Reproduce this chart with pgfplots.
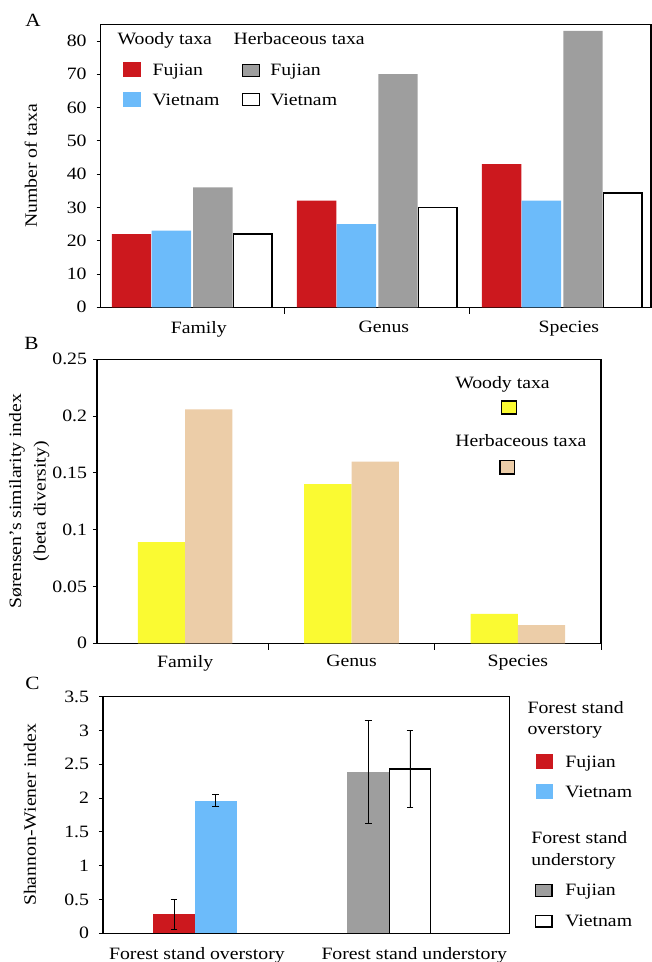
\documentclass[border=0pt]{standalone}
\usepackage{fontspec}
\setmainfont{Liberation Serif}[FakeStretch=1.14]
\usepackage{pgfplots}
\pgfplotsset{compat=1.18}
\definecolor{cred}{RGB}{204,24,30}
\definecolor{cblue}{RGB}{108,187,250}
\definecolor{cgray}{RGB}{158,158,158}
\definecolor{cyel}{RGB}{250,250,50}
\definecolor{ctan}{RGB}{236,205,168}
\pgfplotsset{
  panel/.style={
    scale only axis,
    anchor=south west,
    ymin=0,
    axis line style={black, line width=0.9pt},
    tick align=outside,
    ytick pos=left,
    xtick pos=bottom,
    major tick length=3pt,
    minor tick length=5pt,
    tick style={black, line width=0.6pt},
    major x tick style={draw=none},
    /pgf/number format/assume math mode=true,
    every axis y label/.style={rotate=90, anchor=center},
  }
}
\begin{document}
\begin{tikzpicture}[font=\fontsize{13}{15.6}\selectfont]
% ---------------- Panel A ----------------
\begin{axis}[panel,
  at={(75.45pt,491.03pt)},
  width=412.8pt, height=212.25pt,
  xmin=-0.495, xmax=2.48, ymax=85,
  xtick={0,1,2}, xticklabels={Family,Genus,Species},
  xticklabel style={xshift=5pt, yshift=-4pt},
  yticklabel style={xshift=-4pt},
  minor xtick={0.5,1.5},
  ytick={0,10,20,30,40,50,60,70,80},
  ylabel={Number of taxa},
  ylabel style={at={(axis description cs:-0.1265,0.5)}},
]
\addplot[ybar, bar width=29.6pt, bar shift=-45.5pt, fill=cred, draw=none] coordinates {(0,22) (1,32) (2,43)};
\addplot[ybar, bar width=29.6pt, bar shift=-15.6pt, fill=cblue, draw=none] coordinates {(0,23) (1,25) (2,32)};
\addplot[ybar, bar width=29.6pt, bar shift=15.6pt, fill=cgray, draw=none] coordinates {(0,36) (1,70) (2,83)};
\addplot[ybar, bar width=28.8pt, bar shift=45.5pt, fill=white, draw=black, line width=1.1pt] coordinates {(0,22) (1,30) (2,34.3)};
\end{axis}
% ---------------- Panel B ----------------
\begin{axis}[panel,
  at={(72.75pt,239.03pt)},
  width=378pt, height=213pt,
  xmin=-0.53, xmax=2.5, ymax=0.25,
  xtick={0,1,2}, xticklabels={Family,Genus,Species},
  xticklabel style={yshift=-2.5pt},
  yticklabel style={xshift=-1pt, /pgf/number format/fixed, /pgf/number format/precision=2},
  minor xtick={0.5,1.5,2.5},
  ytick={0,0.05,0.1,0.15,0.2,0.25},
  ylabel={Sørensen’s similarity index\\(beta diversity)},
  ylabel style={at={(axis description cs:-0.1344,0.5)}, align=center, font=\fontsize{13}{18.4}\selectfont},
]
\addplot[ybar, bar width=35.5pt, bar shift=-17.75pt, fill=cyel, draw=none] coordinates {(0,0.089) (1,0.140) (2,0.026)};
\addplot[ybar, bar width=35.5pt, bar shift=17.75pt, fill=ctan, draw=none] coordinates {(0,0.206) (1,0.160) (2,0.016)};
\end{axis}
% ---------------- Panel C ----------------
\begin{axis}[panel,
  at={(77.25pt,21.53pt)},
  width=304.9pt, height=177.45pt,
  xmin=-0.474, xmax=1.621, ymax=3.5,
  xtick={0.01,1.13}, xticklabels={Forest stand overstory,Forest stand understory},
  xticklabel style={yshift=-4pt},
  yticklabel style={xshift=-4pt},
  ytick={0,0.5,1,1.5,2,2.5,3,3.5},
  ylabel={Shannon-Wiener index},
  ylabel style={at={(axis description cs:-0.1796,0.5)}},
  error bars/error bar style={black, line width=0.7pt},
  error bars/error mark options={black, line width=0.7pt, mark size=2.6pt, rotate=90},
]
\addplot[ybar, bar width=31.5pt, bar shift=0pt, fill=cred, draw=none,
  error bars/.cd, y dir=both, y explicit] coordinates {(-0.108,0.28) +- (0,0.22)};
\addplot[ybar, bar width=31.5pt, bar shift=0pt, fill=cblue, draw=none,
  error bars/.cd, y dir=both, y explicit] coordinates {(0.108,1.96) +- (0,0.09)};
\addplot[ybar, bar width=31.5pt, bar shift=0pt, fill=cgray, draw=none,
  error bars/.cd, y dir=both, y explicit] coordinates {(0.892,2.39) +- (0,0.76)};
\addplot[ybar, bar width=30.8pt, bar shift=0pt, fill=white, draw=black, line width=1.1pt,
  error bars/.cd, y dir=both, y explicit] coordinates {(1.108,2.43) +- (0,0.57)};
\end{axis}
% ---------------- Texts and legends (pixel frame) ----------------
\begin{scope}[x=0.75pt, y=-0.75pt, shift={(0pt,721.5pt)}]
\tikzset{lt/.style={anchor=base west, inner sep=0pt}}
\node[lt, font=\fontsize{14}{16}\selectfont] at (25,26.7) {A};
\node[lt, font=\fontsize{14}{16}\selectfont] at (24,349.3) {B};
\node[lt, font=\fontsize{14}{16}\selectfont] at (25,690) {C};
% legend A
\node[lt] at (117.3,44.3) {Woody taxa};
\node[lt] at (233.3,44.3) {Herbaceous taxa};
\fill[cred] (123.3,62.3) rectangle (140.7,77.3);
\node[lt] at (152.3,75.5) {Fujian};
\fill[cblue] (123.3,91.7) rectangle (140.7,106.7);
\node[lt] at (152.3,106) {Vietnam};
\filldraw[fill=cgray, draw=black, line width=1.1pt] (242.5,64.5) rectangle (259.5,76.5);
\node[lt] at (270,75.5) {Fujian};
\filldraw[fill=white, draw=black, line width=1.1pt] (242.5,93.5) rectangle (259.5,105.5);
\node[lt] at (270,106) {Vietnam};
% legend B
\node[lt] at (455,388.3) {Woody taxa};
\filldraw[fill=cyel, draw=black, line width=1.1pt] (501.5,401) rectangle (516.5,414);
\node[lt] at (455,446.7) {Herbaceous taxa};
\filldraw[fill=ctan, draw=black, line width=1.1pt] (500,460.3) rectangle (514.5,474);
% legend C
\node[lt] at (527.3,714) {Forest stand};
\node[lt] at (527.3,735) {overstory};
\fill[cred] (536,754.3) rectangle (553.3,769.3);
\node[lt] at (565,768) {Fujian};
\fill[cblue] (536,784.3) rectangle (553.3,799);
\node[lt] at (565,798) {Vietnam};
\node[lt] at (531,844) {Forest stand};
\node[lt] at (531,865.7) {understory};
\filldraw[fill=cgray, draw=black, line width=1.1pt] (535.5,884.5) rectangle (552,896.5);
\node[lt] at (565,896) {Fujian};
\filldraw[fill=white, draw=black, line width=1.1pt] (535.5,915.5) rectangle (552,927);
\node[lt] at (565,927) {Vietnam};
\end{scope}
\pgfresetboundingbox
\useasboundingbox (0,0) rectangle (489pt,721.5pt);
\end{tikzpicture}
\end{document}
